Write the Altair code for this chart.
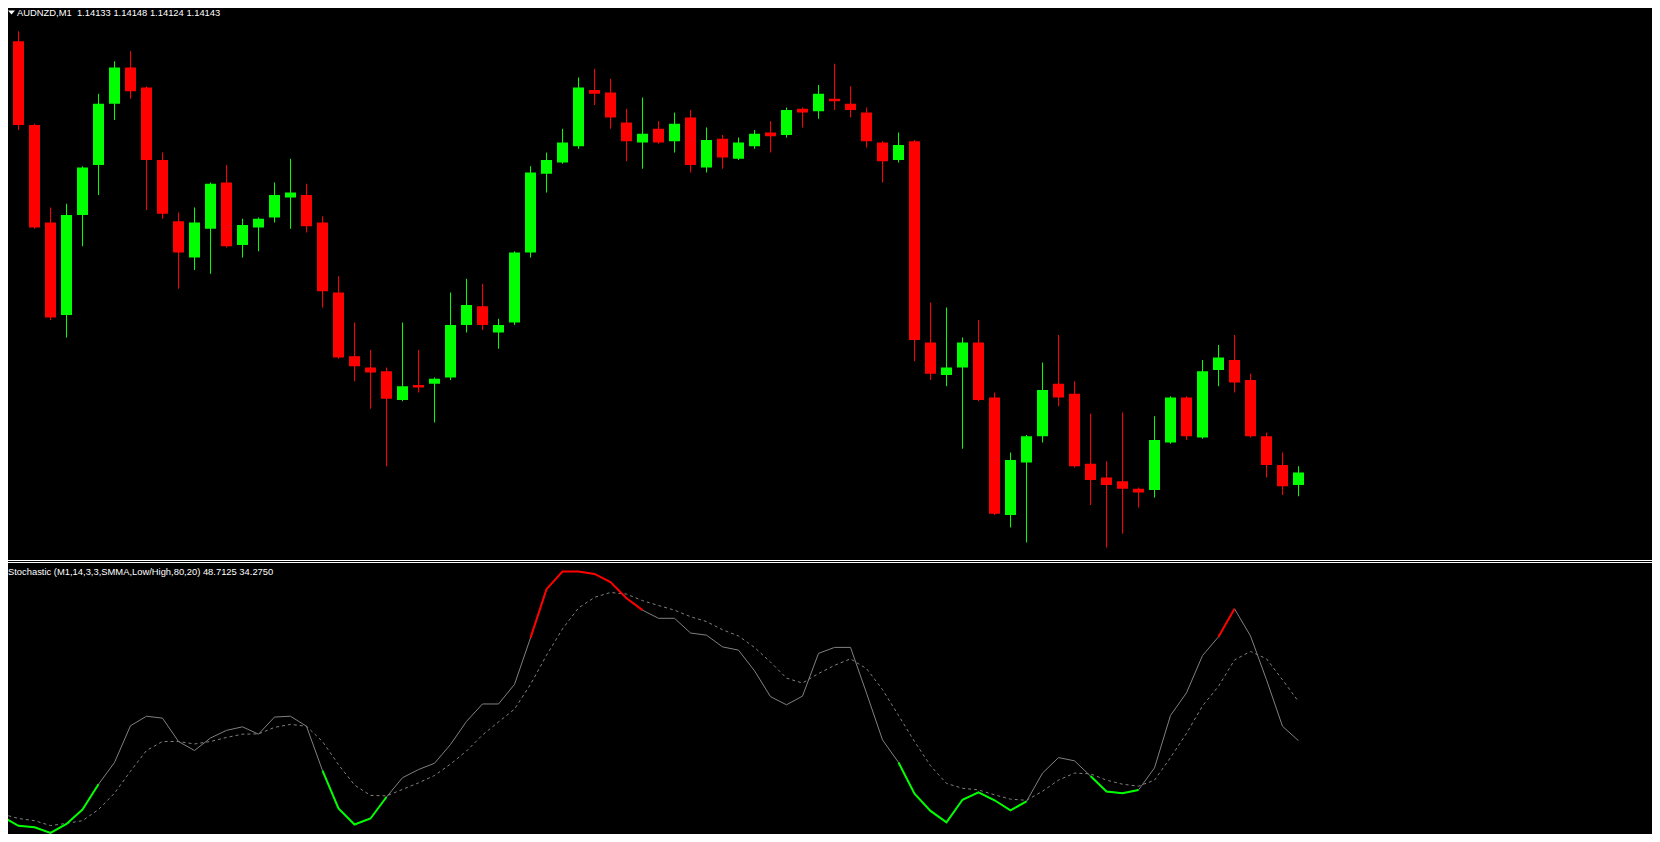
import altair as alt
import pandas as pd

# ---------------- text ----------------
symbol_header = "AUDNZD,M1\u00a0\u00a01.14133 1.14148 1.14124 1.14143"
stoch_label = "Stochastic (M1,14,3,3,SMMA,Low/High,80,20) 48.7125 34.2750"

# ---------------- candle data (AUDNZD, M1) ----------------
opens = [1.14450, 1.14488, 1.14421, 1.14343, 1.14269, 1.14349, 1.14389, 1.14438, 1.14467, 1.14451,
         1.14393, 1.14344, 1.14315, 1.14338, 1.14375, 1.14325, 1.14339, 1.14347, 1.14363, 1.14365,
         1.14343, 1.14287, 1.14236, 1.14227, 1.14224, 1.14201, 1.14213, 1.14214, 1.14219, 1.14261,
         1.14276, 1.14255, 1.14263, 1.14319, 1.14382, 1.14391, 1.14404, 1.14449, 1.14447, 1.14423,
         1.14407, 1.14418, 1.14408, 1.14427, 1.14387, 1.14410, 1.14394, 1.14404, 1.14415, 1.14413,
         1.14434, 1.14432, 1.14442, 1.14438, 1.14431, 1.14407, 1.14393, 1.14408, 1.14247, 1.14221,
         1.14227, 1.14247, 1.14203, 1.14109, 1.14151, 1.14172, 1.14214, 1.14206, 1.14150, 1.14139,
         1.14136, 1.14130, 1.14129, 1.14167, 1.14203, 1.14171, 1.14225, 1.14233, 1.14217, 1.14172,
         1.14149, 1.14133]
highs = [1.14488, 1.14496, 1.14422, 1.14355, 1.14358, 1.14388, 1.14446, 1.14472, 1.14480, 1.14452,
         1.14399, 1.14351, 1.14355, 1.14375, 1.14389, 1.14346, 1.14347, 1.14375, 1.14394, 1.14374,
         1.14348, 1.14300, 1.14263, 1.14241, 1.14227, 1.14263, 1.14241, 1.14219, 1.14287, 1.14298,
         1.14294, 1.14266, 1.14320, 1.14388, 1.14399, 1.14418, 1.14459, 1.14466, 1.14458, 1.14434,
         1.14443, 1.14424, 1.14431, 1.14433, 1.14419, 1.14413, 1.14411, 1.14417, 1.14424, 1.14435,
         1.14435, 1.14453, 1.14470, 1.14452, 1.14435, 1.14408, 1.14415, 1.14409, 1.14279, 1.14275,
         1.14251, 1.14265, 1.14207, 1.14159, 1.14173, 1.14231, 1.14253, 1.14216, 1.14190, 1.14152,
         1.14191, 1.14131, 1.14188, 1.14204, 1.14204, 1.14233, 1.14245, 1.14253, 1.14222, 1.14175,
         1.14159, 1.14148]
lows = [1.14440, 1.14417, 1.14338, 1.14265, 1.14251, 1.14324, 1.14365, 1.14425, 1.14442, 1.14353,
        1.14346, 1.14290, 1.14305, 1.14302, 1.14323, 1.14315, 1.14320, 1.14343, 1.14338, 1.14335,
        1.14275, 1.14234, 1.14216, 1.14194, 1.14148, 1.14200, 1.14207, 1.14183, 1.14217, 1.14255,
        1.14257, 1.14242, 1.14261, 1.14315, 1.14367, 1.14390, 1.14402, 1.14437, 1.14418, 1.14392,
        1.14386, 1.14406, 1.14399, 1.14383, 1.14383, 1.14386, 1.14393, 1.14402, 1.14399, 1.14411,
        1.14419, 1.14426, 1.14433, 1.14427, 1.14403, 1.14375, 1.14391, 1.14232, 1.14217, 1.14212,
        1.14162, 1.14200, 1.14109, 1.14099, 1.14087, 1.14167, 1.14196, 1.14147, 1.14117, 1.14083,
        1.14094, 1.14115, 1.14123, 1.14166, 1.14169, 1.14170, 1.14212, 1.14207, 1.14171, 1.14139,
        1.14125, 1.14124]
closes = [1.14486, 1.14421, 1.14339, 1.14267, 1.14349, 1.14387, 1.14438, 1.14467, 1.14448, 1.14393,
          1.14350, 1.14319, 1.14343, 1.14374, 1.14324, 1.14341, 1.14346, 1.14365, 1.14367, 1.14340,
          1.14288, 1.14235, 1.14228, 1.14223, 1.14202, 1.14212, 1.14211, 1.14218, 1.14261, 1.14277,
          1.14261, 1.14261, 1.14319, 1.14383, 1.14393, 1.14407, 1.14451, 1.14446, 1.14427, 1.14408,
          1.14414, 1.14407, 1.14422, 1.14389, 1.14409, 1.14395, 1.14407, 1.14414, 1.14412, 1.14433,
          1.14431, 1.14446, 1.14440, 1.14433, 1.14408, 1.14392, 1.14405, 1.14249, 1.14222, 1.14227,
          1.14247, 1.14201, 1.14110, 1.14153, 1.14172, 1.14209, 1.14203, 1.14148, 1.14137, 1.14133,
          1.14130, 1.14127, 1.14169, 1.14203, 1.14172, 1.14224, 1.14235, 1.14215, 1.14172, 1.14149,
          1.14132, 1.14143]

# ---------------- stochastic data ----------------
stoch_main = [6.3, 3.0, 2.5, 0.4, 3.7, 9.0, 18.3, 26.3, 39.8, 43.3,
              42.6, 34.0, 30.7, 35.3, 38.1, 39.4, 36.7, 43.0, 43.3, 39.6,
              23.3, 9.4, 3.5, 5.7, 13.6, 20.7, 23.7, 26.0, 32.9, 41.4,
              47.8, 47.8, 55.0, 72.1, 90.0, 96.5, 96.5, 95.6, 92.6, 86.7,
              82.3, 79.3, 79.3, 73.9, 73.1, 68.8, 67.6, 60.0, 50.5, 47.5,
              50.7, 66.4, 68.6, 68.6, 51.8, 34.6, 26.3, 14.8, 8.5, 4.3,
              12.6, 15.3, 12.4, 8.7, 12.0, 22.4, 28.1, 26.9, 21.3, 15.6,
              15.0, 16.2, 24.3, 43.6, 51.9, 65.6, 72.5, 82.8, 72.8, 56.7,
              39.6, 34.3]
stoch_signal = [7.3, 5.7, 4.9, 3.1, 3.9, 4.9, 9.0, 15.0, 23.1, 30.7,
                34.0, 34.0, 33.1, 34.0, 35.5, 36.7, 36.8, 39.2, 40.3, 39.6,
                34.0, 25.5, 18.0, 14.2, 14.0, 16.4, 18.8, 21.5, 25.7, 30.5,
                36.4, 41.2, 45.9, 55.0, 65.7, 75.4, 83.1, 87.0, 88.8, 88.2,
                85.8, 84.0, 82.3, 79.9, 78.1, 75.1, 72.8, 68.6, 63.2, 57.3,
                55.5, 59.0, 62.0, 64.4, 60.8, 53.1, 43.6, 34.0, 25.1, 18.6,
                16.8, 16.2, 14.4, 12.8, 12.4, 15.7, 19.8, 22.4, 22.1, 19.8,
                18.3, 17.6, 19.8, 28.1, 37.0, 47.1, 54.3, 64.0, 67.1, 64.4,
                56.7, 48.7]
# highlighted runs of the main line (first bar, last bar)
green_runs = [(0, 6), (20, 24), (56, 64), (68, 71)]
red_runs = [(33, 40), (76, 77)]

# ---------------- layout ----------------
W, H = 1644, 826
MAIN_H = 552
SUB_TOP = 554
BAR_STEP = 16.0
X_OFFSET = -5.5
PRICE_DOMAIN = [1.14073, 1.145146]

n = len(opens)
candles = pd.DataFrame({"bar": list(range(n)), "open": opens, "high": highs,
                        "low": lows, "close": closes})
stoch = pd.DataFrame({"bar": list(range(n)), "main": stoch_main, "signal": stoch_signal})

rows = []
for zone, runs in (("oversold", green_runs), ("overbought", red_runs)):
    for r, (a, b) in enumerate(runs):
        for i in range(a, b + 1):
            rows.append({"bar": i, "main": stoch_main[i], "run": f"{zone}{r}", "zone": zone})
runs_df = pd.DataFrame(rows)

x_scale = alt.Scale(domain=[-X_OFFSET / BAR_STEP, (W - X_OFFSET) / BAR_STEP],
                    nice=False, zero=False, padding=0)
price_scale = alt.Scale(domain=PRICE_DOMAIN, range=[MAIN_H, 0], nice=False, zero=False)
stoch_scale = alt.Scale(domain=[0, 100], range=[H, SUB_TOP], nice=False, zero=False)

X = alt.X("bar:Q", scale=x_scale, axis=None)
candle_color = alt.condition("datum.close >= datum.open", alt.value("#00ff00"), alt.value("#ff0000"))

base = alt.Chart(candles)
wicks = base.mark_rule(strokeWidth=1, clip=True).encode(
    x=X,
    y=alt.Y("low:Q", scale=price_scale, axis=None),
    y2="high:Q",
    color=candle_color,
)
bodies = base.mark_bar(size=11, clip=True).encode(
    x=X,
    y=alt.Y("open:Q", scale=price_scale, axis=None),
    y2="close:Q",
    color=candle_color,
)

sbase = alt.Chart(stoch)
signal_line = sbase.mark_line(color="#808080", strokeWidth=1, strokeDash=[3, 3], clip=True).encode(
    x=X, y=alt.Y("signal:Q", scale=stoch_scale, axis=None)
)
main_line = sbase.mark_line(color="#808080", strokeWidth=1, clip=True).encode(
    x=X, y=alt.Y("main:Q", scale=stoch_scale, axis=None)
)
green_line = alt.Chart(runs_df).transform_filter("datum.zone == 'oversold'").mark_line(
    color="#00ff00", strokeWidth=2, clip=True
).encode(x=X, y=alt.Y("main:Q", scale=stoch_scale, axis=None), detail="run:N")
red_line = alt.Chart(runs_df).transform_filter("datum.zone == 'overbought'").mark_line(
    color="#ff0000", strokeWidth=2, clip=True
).encode(x=X, y=alt.Y("main:Q", scale=stoch_scale, axis=None), detail="run:N")

one = alt.Data(values=[{}])
sep1 = alt.Chart(one).mark_rule(color="white", strokeWidth=1).encode(
    x=alt.value(0), x2=alt.value(W), y=alt.value(MAIN_H + 0.5)
)
sep2 = alt.Chart(one).mark_rule(color="white", strokeWidth=1).encode(
    x=alt.value(0), x2=alt.value(W), y=alt.value(SUB_TOP + 0.5)
)
tri = alt.Chart(one).mark_point(
    shape="M-1,-0.6L1,-0.6L0,0.6Z", filled=True, size=49, color="white", opacity=1
).encode(x=alt.value(3.5), y=alt.value(4.5))
header = alt.Chart(one).mark_text(
    align="left", baseline="middle", font="Liberation Sans", fontSize=9.4, color="white"
).encode(x=alt.value(9), y=alt.value(5), text=alt.value(symbol_header))
sub_header = alt.Chart(one).mark_text(
    align="left", baseline="middle", font="Liberation Sans", fontSize=9.4, color="white"
).encode(x=alt.value(0), y=alt.value(SUB_TOP + 10), text=alt.value(stoch_label))

chart = alt.layer(
    wicks, bodies, signal_line, main_line, green_line, red_line,
    sep1, sep2, tri, header, sub_header
).resolve_scale(y="independent").properties(
    width=W, height=H, background="black", padding=0,
    autosize=alt.AutoSizeParams(type="none"),
).configure_view(strokeWidth=0)

chart.save("out.html", embed_options={"renderer": "svg", "actions": False})
